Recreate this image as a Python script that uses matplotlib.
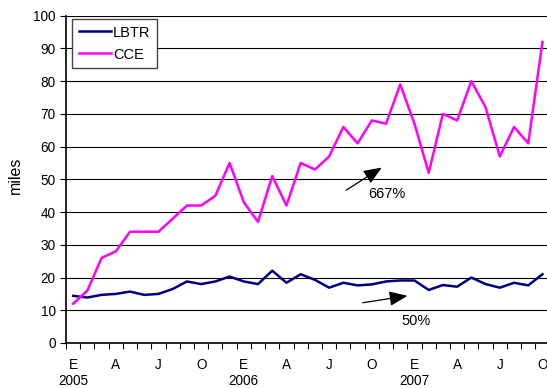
import numpy as np
import matplotlib
matplotlib.use("Agg")
from matplotlib import pyplot as plt

# monthly figures, Jan 2005 - Oct 2007
lbtr = [14.4, 13.9, 14.7, 15.0, 15.7, 14.7, 15.0, 16.5, 18.8, 18.0, 18.8, 20.3,
        18.8, 18.0, 22.1, 18.4, 21.0, 19.3, 16.9, 18.4, 17.6, 17.9, 18.8, 19.1,
        19.1, 16.2, 17.7, 17.2, 20.0, 18.0, 16.9, 18.4, 17.6, 21.0]
cce = [12, 16, 26, 28, 34, 34, 34, 38, 42, 42, 45, 55,
       43, 37, 51, 42, 55, 53, 57, 66, 61, 68, 67, 79,
       67, 52, 70, 68, 80, 72, 57, 66, 61, 92]
month_labels = ["E", "A", "J", "O"] * 3
years = ["2005", "2006", "2007"]

x = np.arange(len(cce))

plt.rcParams['font.family'] = ['Liberation Sans', 'DejaVu Sans']
fig = plt.figure(figsize=(5.47, 3.88), dpi=100)
ax = fig.add_axes([0.1207, 0.116, 0.884, 0.8435])

ax.plot(x, lbtr, color='#000080', lw=1.8, label='LBTR', zorder=3)
ax.plot(x, cce, color='#FF00FF', lw=1.8, label='CCE', zorder=3)

ax.set_xlim(-0.5, len(x) - 0.5)
ax.set_ylim(0, 100)
ax.set_yticks(range(0, 101, 10))
ax.yaxis.grid(True, color='black', lw=0.8)
ax.set_axisbelow(True)

# month letters every quarter, tick marks between months
ax.set_xticks(range(0, len(x), 3))
ax.set_xticklabels(month_labels)
ax.set_xticks(np.arange(-0.5, len(x), 1), minor=True)
ax.tick_params(axis='x', which='major', length=0, pad=11, labelsize=9.8)
ax.tick_params(axis='x', which='minor', length=4, direction='out', width=0.8)
ax.tick_params(axis='y', length=4, direction='out', width=0.8, labelsize=9.8)
for i, yr in enumerate(years):
    ax.text(i * 12, -0.115, yr, transform=ax.get_xaxis_transform(),
            ha='center', va='center', fontsize=9.8)

for side in ['top', 'right']:
    ax.spines[side].set_visible(False)
ax.spines['left'].set_linewidth(1.2)
ax.spines['bottom'].set_linewidth(1.2)

ax.set_ylabel('miles', fontsize=11.5)
ax.yaxis.set_label_coords(-0.089, 0.512)

arrow = dict(arrowstyle='-|>,head_length=1.1,head_width=0.45',
             color='black', lw=0.9, shrinkA=0, shrinkB=0)
ax.annotate('', xy=(21.7, 53.6), xytext=(19.2, 46.7), arrowprops=arrow)
ax.text(22.05, 45.5, '667%', ha='center', va='center', fontsize=10.5)
ax.annotate('', xy=(23.5, 14.4), xytext=(20.36, 12.3), arrowprops=arrow)
ax.text(24.1, 6.8, '50%', ha='center', va='center', fontsize=10.5)

leg = ax.legend(loc='upper left', bbox_to_anchor=(0.0125, 0.99), fontsize=10.5,
                frameon=True, fancybox=False, handlelength=2.2,
                handletextpad=0.15, borderpad=0.45, labelspacing=0.55,
                borderaxespad=0)
leg.get_frame().set_edgecolor('#444444')
leg.get_frame().set_linewidth(1.0)
leg.get_frame().set_alpha(1)

fig.savefig('out.png', dpi=100)
